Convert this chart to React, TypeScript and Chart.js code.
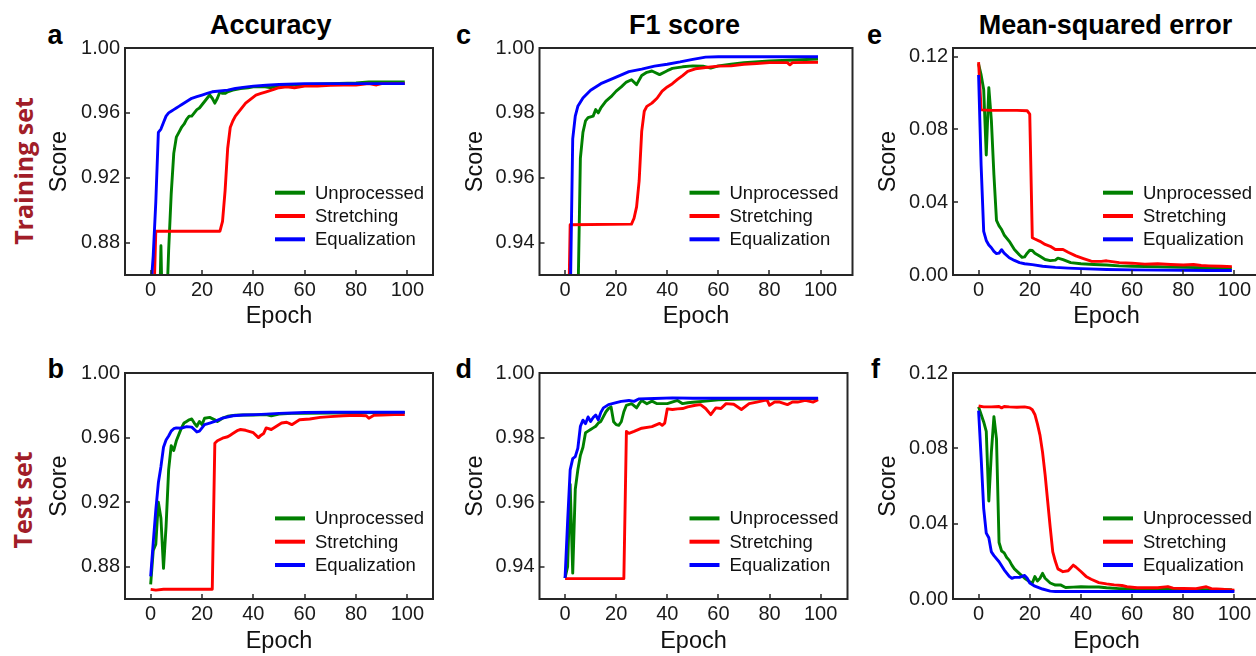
import React, { useEffect, useRef } from 'react';
import { Chart, registerables } from 'chart.js';

Chart.register(...registerables);

type Pt = [number, number];

const FONT = '"Liberation Sans", Arial, Helvetica, sans-serif';

const seriesLabels = ['Unprocessed', 'Stretching', 'Equalization'];
const seriesColors = ['#008000', '#ff0000', '#0000ff'];

const epochTicks = [0, 20, 40, 60, 80, 100];
const accTicks = [0.88, 0.92, 0.96, 1.0];
const f1Ticks = [0.94, 0.96, 0.98, 1.0];
const mseTicks = [0, 0.04, 0.08, 0.12];

const columnTitles = ['Accuracy', 'F1 score', 'Mean-squared error'];
const rowTitles = ['Training set', 'Test set'];
const panelLetters = ['a', 'b', 'c', 'd', 'e', 'f'];

// ---------- (a) Accuracy, training set ----------
const accTrainUnprocessed: Pt[] = [
  [0, 0.8], [3, 0.8], [4, 0.878], [5, 0.8], [6, 0.83], [7, 0.875], [8, 0.91], [9, 0.935], [10, 0.945],
  [11, 0.948], [12, 0.951], [13, 0.953], [14, 0.956], [15, 0.958], [16, 0.958], [17, 0.96], [18, 0.962],
  [19, 0.963], [20, 0.965], [21, 0.967], [22, 0.969], [23, 0.971], [24, 0.969], [25, 0.966], [26, 0.969],
  [27, 0.973], [28, 0.972], [29, 0.972], [30, 0.973], [32, 0.974], [35, 0.975], [38, 0.9755], [40, 0.976],
  [44, 0.9762], [47, 0.9755], [50, 0.977], [55, 0.9772], [60, 0.9775], [70, 0.978], [80, 0.9785],
  [85, 0.979], [90, 0.979], [99, 0.979],
];
const accTrainStretching: Pt[] = [
  [0, 0.8], [1, 0.83], [2, 0.887], [10, 0.887], [20, 0.887], [27, 0.887], [28, 0.893], [29, 0.912],
  [30, 0.938], [31, 0.951], [32, 0.955], [33, 0.958], [35, 0.962], [37, 0.966], [39, 0.9685], [41, 0.971],
  [43, 0.972], [45, 0.973], [48, 0.9745], [50, 0.9755], [53, 0.976], [56, 0.9755], [60, 0.9765],
  [65, 0.9765], [70, 0.977], [75, 0.9772], [80, 0.9772], [85, 0.978], [88, 0.9772], [90, 0.978],
  [95, 0.978], [99, 0.978],
];
const accTrainEqualization: Pt[] = [
  [0, 0.85], [1, 0.872], [2, 0.905], [3, 0.948], [4, 0.95], [5, 0.954], [6, 0.958], [7, 0.96], [8, 0.961],
  [9, 0.962], [10, 0.963], [11, 0.964], [12, 0.965], [14, 0.967], [16, 0.969], [18, 0.97], [20, 0.971],
  [22, 0.972], [24, 0.973], [27, 0.9735], [30, 0.974], [33, 0.975], [36, 0.9757], [40, 0.9765],
  [45, 0.977], [50, 0.9775], [60, 0.978], [70, 0.978], [80, 0.978], [90, 0.978], [99, 0.978],
];

// ---------- (b) Accuracy, test set ----------
const accTestUnprocessed: Pt[] = [
  [0, 0.869], [1, 0.89], [2, 0.894], [3, 0.92], [4, 0.91], [5, 0.879], [6, 0.905], [7, 0.94], [8, 0.955],
  [9, 0.952], [10, 0.958], [11, 0.962], [12, 0.966], [13, 0.969], [14, 0.97], [15, 0.971], [16, 0.9715],
  [17, 0.969], [18, 0.967], [19, 0.97], [20, 0.968], [21, 0.972], [23, 0.9725], [25, 0.971], [26, 0.97],
  [28, 0.972], [30, 0.9732], [33, 0.9738], [36, 0.974], [40, 0.974], [45, 0.9742], [47, 0.9735],
  [50, 0.9745], [55, 0.975], [60, 0.975], [70, 0.9752], [80, 0.9753], [90, 0.9755], [99, 0.9755],
];
const accTestStretching: Pt[] = [
  [0, 0.866], [2, 0.8655], [5, 0.866], [10, 0.866], [20, 0.866], [24, 0.866], [25, 0.9565], [26, 0.958],
  [28, 0.9596], [30, 0.9605], [31, 0.9615], [32, 0.9625], [34, 0.9645], [35, 0.965], [37, 0.9645],
  [40, 0.963], [42, 0.96], [43, 0.9615], [44, 0.9625], [45, 0.966], [47, 0.965], [49, 0.967], [51, 0.969],
  [53, 0.9695], [55, 0.968], [58, 0.971], [62, 0.9715], [66, 0.9725], [70, 0.973], [75, 0.9735],
  [80, 0.9738], [84, 0.9735], [85, 0.972], [87, 0.9738], [90, 0.974], [95, 0.9742], [99, 0.9743],
];
const accTestEqualization: Pt[] = [
  [0, 0.874], [1, 0.895], [2, 0.915], [3, 0.932], [4, 0.942], [5, 0.954], [6, 0.9585], [7, 0.961],
  [8, 0.964], [9, 0.9655], [10, 0.966], [12, 0.9658], [14, 0.9668], [16, 0.9665], [17, 0.965],
  [18, 0.9635], [19, 0.964], [20, 0.966], [21, 0.968], [23, 0.969], [25, 0.97], [28, 0.972],
  [32, 0.9735], [36, 0.974], [41, 0.9742], [45, 0.9745], [50, 0.975], [55, 0.9752], [60, 0.9755],
  [70, 0.9757], [80, 0.9757], [99, 0.9757],
];

// ---------- (c) F1 score, training set ----------
const f1TrainUnprocessed: Pt[] = [
  [0, 0.9], [4, 0.9], [5, 0.92], [6, 0.966], [7, 0.974], [8, 0.9775], [9, 0.9785], [11, 0.979], [12, 0.981],
  [13, 0.98], [14, 0.9815], [16, 0.9836], [18, 0.985], [20, 0.9867], [22, 0.988], [24, 0.9895],
  [26, 0.9902], [28, 0.9887], [30, 0.9915], [32, 0.9925], [34, 0.9929], [37, 0.9918], [40, 0.993],
  [42, 0.9937], [46, 0.9942], [50, 0.9945], [54, 0.9944], [57, 0.9938], [60, 0.9945], [65, 0.995],
  [70, 0.9955], [80, 0.996], [90, 0.9963], [99, 0.9966],
];
const f1TrainStretching: Pt[] = [
  [0, 0.9], [1, 0.9], [2, 0.9455], [26, 0.9457], [27, 0.9475], [28, 0.951], [29, 0.959], [30, 0.9743],
  [31, 0.9805], [32, 0.982], [34, 0.983], [36, 0.9845], [38, 0.9867], [40, 0.988], [42, 0.989],
  [44, 0.9903], [46, 0.9915], [48, 0.9928], [51, 0.9936], [55, 0.994], [60, 0.9944], [65, 0.9945],
  [70, 0.995], [75, 0.9952], [80, 0.9955], [87, 0.9955], [88, 0.9948], [89, 0.9955], [99, 0.9956],
];
const f1TrainEqualization: Pt[] = [
  [0, 0.9], [2, 0.92], [3, 0.972], [4, 0.979], [5, 0.982], [7, 0.9846], [10, 0.987], [14, 0.989],
  [17, 0.99], [20, 0.991], [25, 0.9927], [30, 0.9935], [35, 0.9944], [40, 0.995], [45, 0.9957],
  [50, 0.9965], [55, 0.9972], [60, 0.9973], [80, 0.9973], [99, 0.9973],
];

// ---------- (d) F1 score, test set ----------
const f1TestUnprocessed: Pt[] = [
  [0, 0.9365], [1, 0.94], [2, 0.9655], [3, 0.938], [4, 0.964], [5, 0.97], [6, 0.9745], [7, 0.977],
  [8, 0.9815], [9, 0.982], [10, 0.9825], [11, 0.983], [12, 0.9835], [13, 0.9845], [14, 0.985],
  [15, 0.9865], [16, 0.988], [17, 0.989], [18, 0.9895], [19, 0.9849], [20, 0.984], [21, 0.9838],
  [22, 0.9849], [23, 0.988], [24, 0.99], [26, 0.9905], [28, 0.9892], [29, 0.9905], [30, 0.9915],
  [32, 0.9905], [34, 0.9913], [36, 0.9905], [40, 0.9905], [44, 0.9915], [46, 0.9905], [48, 0.9908],
  [51, 0.991], [55, 0.9913], [60, 0.9917], [70, 0.9919], [80, 0.992], [90, 0.992], [99, 0.992],
];
const f1TestStretching: Pt[] = [
  [0, 0.9363], [10, 0.9363], [20, 0.9363], [23, 0.9363], [24, 0.9819], [25, 0.9813], [27, 0.9819],
  [30, 0.9829], [34, 0.9834], [37, 0.9844], [38, 0.9838], [39, 0.9845], [40, 0.9889], [42, 0.9887],
  [44, 0.9889], [46, 0.989], [48, 0.9895], [51, 0.99], [53, 0.9902], [55, 0.989], [57, 0.9871],
  [59, 0.9892], [61, 0.989], [63, 0.9905], [66, 0.9903], [69, 0.9887], [72, 0.9905], [75, 0.991],
  [79, 0.9917], [80, 0.99], [82, 0.991], [84, 0.991], [87, 0.9902], [89, 0.991], [91, 0.991],
  [94, 0.9915], [97, 0.991], [99, 0.9917],
];
const f1TestEqualization: Pt[] = [
  [0, 0.9365], [1, 0.954], [2, 0.97], [3, 0.9735], [4, 0.9741], [5, 0.9767], [6, 0.9835], [7, 0.9854],
  [8, 0.9843], [9, 0.9864], [10, 0.985], [11, 0.9862], [12, 0.987], [13, 0.9855], [14, 0.9878],
  [15, 0.9892], [17, 0.9902], [20, 0.9908], [22, 0.9912], [25, 0.9915], [27, 0.9912], [29, 0.992],
  [35, 0.9921], [42, 0.9923], [50, 0.9922], [60, 0.9922], [80, 0.9922], [99, 0.9922],
];

// ---------- (e) Mean-squared error, training set ----------
const mseTrainUnprocessed: Pt[] = [
  [0, 0.116], [1, 0.11], [2, 0.102], [3, 0.066], [4, 0.103], [5, 0.085], [6, 0.055], [7, 0.03],
  [8, 0.027], [9, 0.025], [10, 0.022], [12, 0.0185], [14, 0.014], [16, 0.011], [17, 0.0097], [18, 0.01],
  [19, 0.012], [20, 0.0136], [21, 0.0135], [22, 0.012], [24, 0.0103], [26, 0.0085], [28, 0.0079],
  [30, 0.0082], [31, 0.0093], [33, 0.0085], [36, 0.0068], [40, 0.0062], [45, 0.0058], [50, 0.0055],
  [55, 0.005], [60, 0.0048], [70, 0.0045], [80, 0.0042], [90, 0.004], [99, 0.0037],
];
const mseTrainStretching: Pt[] = [
  [0, 0.117], [1, 0.0908], [5, 0.0905], [10, 0.0905], [15, 0.0905], [19, 0.0903], [20, 0.0885],
  [21, 0.0205], [22, 0.0198], [24, 0.0185], [26, 0.0168], [28, 0.0158], [30, 0.014], [33, 0.014],
  [35, 0.0125], [38, 0.0105], [41, 0.009], [44, 0.0076], [48, 0.0075], [50, 0.0078], [55, 0.0068],
  [60, 0.0065], [65, 0.006], [70, 0.0062], [75, 0.0058], [80, 0.0055], [84, 0.0058], [87, 0.0052],
  [90, 0.005], [95, 0.0048], [99, 0.0046],
];
const mseTrainEqualization: Pt[] = [
  [0, 0.11], [1, 0.06], [2, 0.024], [3, 0.019], [4, 0.0165], [5, 0.015], [6, 0.013], [7, 0.0118],
  [8, 0.012], [9, 0.0139], [10, 0.012], [12, 0.0095], [14, 0.008], [16, 0.0068], [18, 0.0062],
  [21, 0.0057], [25, 0.0048], [30, 0.0042], [35, 0.0038], [40, 0.0035], [50, 0.003], [60, 0.0028],
  [70, 0.0027], [80, 0.0026], [90, 0.0025], [99, 0.0025],
];

// ---------- (f) Mean-squared error, test set ----------
const mseTestUnprocessed: Pt[] = [
  [0, 0.102], [1, 0.098], [2, 0.094], [3, 0.089], [4, 0.052], [5, 0.078], [6, 0.0968], [7, 0.085],
  [8, 0.03], [9, 0.0255], [10, 0.0245], [11, 0.022], [12, 0.0205], [13, 0.018], [14, 0.016],
  [16, 0.0135], [18, 0.011], [20, 0.0092], [21, 0.0085], [22, 0.0119], [23, 0.0096], [24, 0.011],
  [25, 0.0136], [26, 0.011], [28, 0.0085], [30, 0.0074], [32, 0.0075], [34, 0.0061], [37, 0.0063],
  [40, 0.0065], [43, 0.0064], [47, 0.0064], [50, 0.006], [55, 0.0055], [60, 0.0055], [70, 0.0052],
  [80, 0.005], [90, 0.005], [99, 0.005],
];
const mseTestStretching: Pt[] = [
  [0, 0.1025], [2, 0.102], [5, 0.102], [8, 0.1022], [9, 0.1015], [10, 0.1022], [12, 0.102], [15, 0.1018],
  [18, 0.102], [20, 0.1015], [21, 0.1005], [22, 0.098], [23, 0.093], [24, 0.087], [25, 0.078],
  [26, 0.066], [27, 0.052], [28, 0.038], [29, 0.025], [30, 0.02], [31, 0.016], [33, 0.0145], [35, 0.015],
  [36, 0.0165], [37, 0.018], [38, 0.017], [40, 0.0146], [42, 0.012], [44, 0.0105], [47, 0.0087],
  [50, 0.008], [53, 0.0075], [56, 0.0072], [58, 0.0065], [62, 0.006], [66, 0.006], [70, 0.006],
  [74, 0.0066], [76, 0.0058], [80, 0.0056], [85, 0.0055], [89, 0.0065], [91, 0.0055], [95, 0.0052],
  [100, 0.0047],
];
const mseTestEqualization: Pt[] = [
  [0, 0.1], [1, 0.075], [2, 0.048], [3, 0.035], [4, 0.0325], [5, 0.025], [6, 0.023], [8, 0.0198],
  [10, 0.0155], [12, 0.012], [13, 0.011], [14, 0.0115], [16, 0.0115], [18, 0.0125], [19, 0.011],
  [20, 0.0085], [22, 0.0068], [25, 0.0053], [28, 0.0042], [30, 0.004], [40, 0.004], [60, 0.004],
  [80, 0.004], [100, 0.004],
];

// ---------- layout ----------
interface PanelSpec {
  key: string;
  plot: { l: number; t: number; r: number; b: number };
  x: [number, number];
  y: [number, number];
  yTicks: number[];
  yW: number; // y-axis box width
  xH: number; // x-axis box height
  legendRows: number[]; // offsets above plot bottom
  series: Pt[][];
}

const PAD_TOP = 20;
const PAD_RIGHT = 12;

const panels: PanelSpec[] = [
  { key: 'a', plot: { l: 125, t: 48, r: 433, b: 275 }, x: [-10, 110], y: [0.86, 1.0], yTicks: accTicks, yW: 80, xH: 56,
    legendRows: [82.3, 59, 35.7], series: [accTrainUnprocessed, accTrainStretching, accTrainEqualization] },
  { key: 'b', plot: { l: 125, t: 373, r: 433, b: 599 }, x: [-10, 110], y: [0.86, 1.0], yTicks: accTicks, yW: 80, xH: 57,
    legendRows: [80.6, 57.3, 34], series: [accTestUnprocessed, accTestStretching, accTestEqualization] },
  { key: 'c', plot: { l: 539, t: 48, r: 852, b: 275 }, x: [-10, 112.5], y: [0.93, 1.0], yTicks: f1Ticks, yW: 78.5, xH: 56,
    legendRows: [82.3, 59, 35.7], series: [f1TrainUnprocessed, f1TrainStretching, f1TrainEqualization] },
  { key: 'd', plot: { l: 539, t: 373, r: 847, b: 599 }, x: [-10, 110.5], y: [0.93, 1.0], yTicks: f1Ticks, yW: 78.5, xH: 57,
    legendRows: [80.6, 57.3, 34], series: [f1TestUnprocessed, f1TestStretching, f1TestEqualization] },
  { key: 'e', plot: { l: 953, t: 48, r: 1260, b: 275 }, x: [-10, 110], y: [0, 0.1248], yTicks: mseTicks, yW: 79, xH: 56,
    legendRows: [82.3, 59, 35.7], series: [mseTrainUnprocessed, mseTrainStretching, mseTrainEqualization] },
  { key: 'f', plot: { l: 953, t: 373, r: 1260, b: 599 }, x: [-10, 110], y: [0, 0.12], yTicks: mseTicks, yW: 79, xH: 57,
    legendRows: [80.6, 57.3, 34], series: [mseTestUnprocessed, mseTestStretching, mseTestEqualization] },
];

const frameLegendPlugin = {
  id: 'frameLegend',
  afterDraw(chart: any, _args: any, opts: any) {
    const { ctx, chartArea: a, scales } = chart;
    ctx.save();
    // frame
    ctx.strokeStyle = '#262626';
    ctx.lineWidth = 2;
    ctx.strokeRect(a.left, a.top, a.right - a.left, a.bottom - a.top);
    // inward tick marks
    ctx.lineWidth = 1.5;
    ctx.beginPath();
    for (const t of scales.x.ticks) {
      const px = Math.round(scales.x.getPixelForValue(t.value));
      ctx.moveTo(px, a.bottom);
      ctx.lineTo(px, a.bottom - 5);
    }
    for (const t of scales.y.ticks) {
      const py = Math.round(scales.y.getPixelForValue(t.value));
      ctx.moveTo(a.left, py);
      ctx.lineTo(a.left + 5, py);
    }
    ctx.stroke();
    // legend inside the axes (lower right)
    const rows: number[] = opts.rows || [];
    const x0 = a.left + 150;
    ctx.font = `18.5px ${FONT}`;
    ctx.textBaseline = 'middle';
    ctx.textAlign = 'left';
    chart.data.datasets.forEach((ds: any, i: number) => {
      const y = a.bottom - rows[i];
      ctx.strokeStyle = ds.borderColor;
      ctx.lineWidth = 4;
      ctx.lineCap = 'butt';
      ctx.beginPath();
      ctx.moveTo(x0, y);
      ctx.lineTo(x0 + 30, y);
      ctx.stroke();
      ctx.fillStyle = '#111';
      ctx.fillText(ds.label, x0 + 40, y + 1);
    });
    ctx.restore();
  },
};

function Panel({ spec }: { spec: PanelSpec }) {
  const ref = useRef<HTMLCanvasElement>(null);
  const { plot, yW, xH } = spec;
  const w = Math.round(yW + (plot.r - plot.l) + PAD_RIGHT);
  const h = Math.round(PAD_TOP + (plot.b - plot.t) + xH);
  const left = plot.l - yW;
  const top = plot.t - PAD_TOP;

  useEffect(() => {
    if (!ref.current) return;
    const chart = new Chart(ref.current, {
      type: 'line',
      data: {
        datasets: spec.series.map((pts, i) => ({
          label: seriesLabels[i],
          data: pts.map(([x, y]) => ({ x, y })),
          borderColor: seriesColors[i],
          backgroundColor: seriesColors[i],
          borderWidth: 2.9,
          borderJoinStyle: 'round' as const,
          pointRadius: 0,
          tension: 0,
          fill: false,
          order: 2 - i,
        })),
      },
      options: {
        animation: false,
        responsive: false,
        maintainAspectRatio: false,
        devicePixelRatio: 1,
        events: [],
        layout: { padding: { left: 0, top: PAD_TOP, right: w - yW - (plot.r - plot.l), bottom: 0 } },
        plugins: {
          legend: { display: false },
          tooltip: { enabled: false },
          frameLegend: { rows: spec.legendRows },
        } as any,
        scales: {
          x: {
            type: 'linear',
            min: spec.x[0],
            max: spec.x[1],
            grid: { display: false, drawTicks: false },
            border: { display: false },
            afterBuildTicks: (s: any) => { s.ticks = epochTicks.map((v) => ({ value: v })); },
            afterFit: (s: any) => { s.height = xH; },
            ticks: {
              font: { family: FONT, size: 20 },
              color: '#1a1a1a',
              padding: 3,
              maxRotation: 0,
              autoSkip: false,
              callback: (v: any) => String(v),
            },
            title: { display: true, text: 'Epoch', font: { family: FONT, size: 23.5 }, color: '#111', padding: 0 },
          },
          y: {
            type: 'linear',
            min: spec.y[0],
            max: spec.y[1],
            grid: { display: false, drawTicks: false },
            border: { display: false },
            afterBuildTicks: (s: any) => { s.ticks = spec.yTicks.map((v) => ({ value: v })); },
            afterFit: (s: any) => { s.width = yW; },
            ticks: {
              font: { family: FONT, size: 20 },
              color: '#1a1a1a',
              padding: 5,
              autoSkip: false,
              callback: (v: any) => Number(v).toFixed(2),
            },
            title: { display: true, text: 'Score', font: { family: FONT, size: 23.5 }, color: '#111', padding: 0 },
          },
        },
      },
      plugins: [frameLegendPlugin],
    } as any);
    return () => chart.destroy();
  }, []);

  return (
    <canvas
      ref={ref}
      width={w}
      height={h}
      style={{ position: 'absolute', left, top, width: w, height: h }}
    />
  );
}

function Text({ children, x, baseline, size, bold, center, color }: any) {
  return (
    <div
      style={{
        position: 'absolute',
        left: x,
        top: baseline - 0.8465 * size,
        fontSize: size,
        lineHeight: 1,
        fontWeight: bold ? 700 : 400,
        fontFamily: FONT,
        color: color || '#000',
        whiteSpace: 'nowrap',
        transform: center ? 'translateX(-50%)' : undefined,
      }}
    >
      {children}
    </div>
  );
}

function RowTitle({ text, cx, cy }: { text: string; cx: number; cy: number }) {
  return (
    <div
      style={{
        position: 'absolute',
        left: cx,
        top: cy,
        transform: 'translate(-50%, -50%) rotate(-90deg)',
        fontFamily: '"Open Sans", "Noto Sans", sans-serif',
        fontWeight: 700,
        fontSize: 25,
        lineHeight: 1,
        color: '#a11d28',
        whiteSpace: 'nowrap',
      }}
    >
      {text}
    </div>
  );
}

const titleCenters = [270.8, 684.5, 1105.5];
const letterPos: [number, number][] = [[47.5, 45], [47.5, 379], [456, 45], [455.5, 379], [867, 45], [871, 379]];

export default function App() {
  return (
    <div
      style={{
        position: 'fixed',
        left: 0,
        top: 0,
        width: 1256,
        height: 656,
        overflow: 'hidden',
        background: '#fff',
      }}
    >
      {columnTitles.map((t, i) => (
        <Text key={t} x={titleCenters[i]} baseline={35} size={27} bold center>{t}</Text>
      ))}
      {panelLetters.map((l, i) => (
        <Text key={l} x={letterPos[i][0]} baseline={letterPos[i][1]} size={27} bold>{l}</Text>
      ))}
      <RowTitle text={rowTitles[0]} cx={22.5} cy={171} />
      <RowTitle text={rowTitles[1]} cx={22} cy={500} />
      {panels.map((p) => <Panel key={p.key} spec={p} />)}
    </div>
  );
}
